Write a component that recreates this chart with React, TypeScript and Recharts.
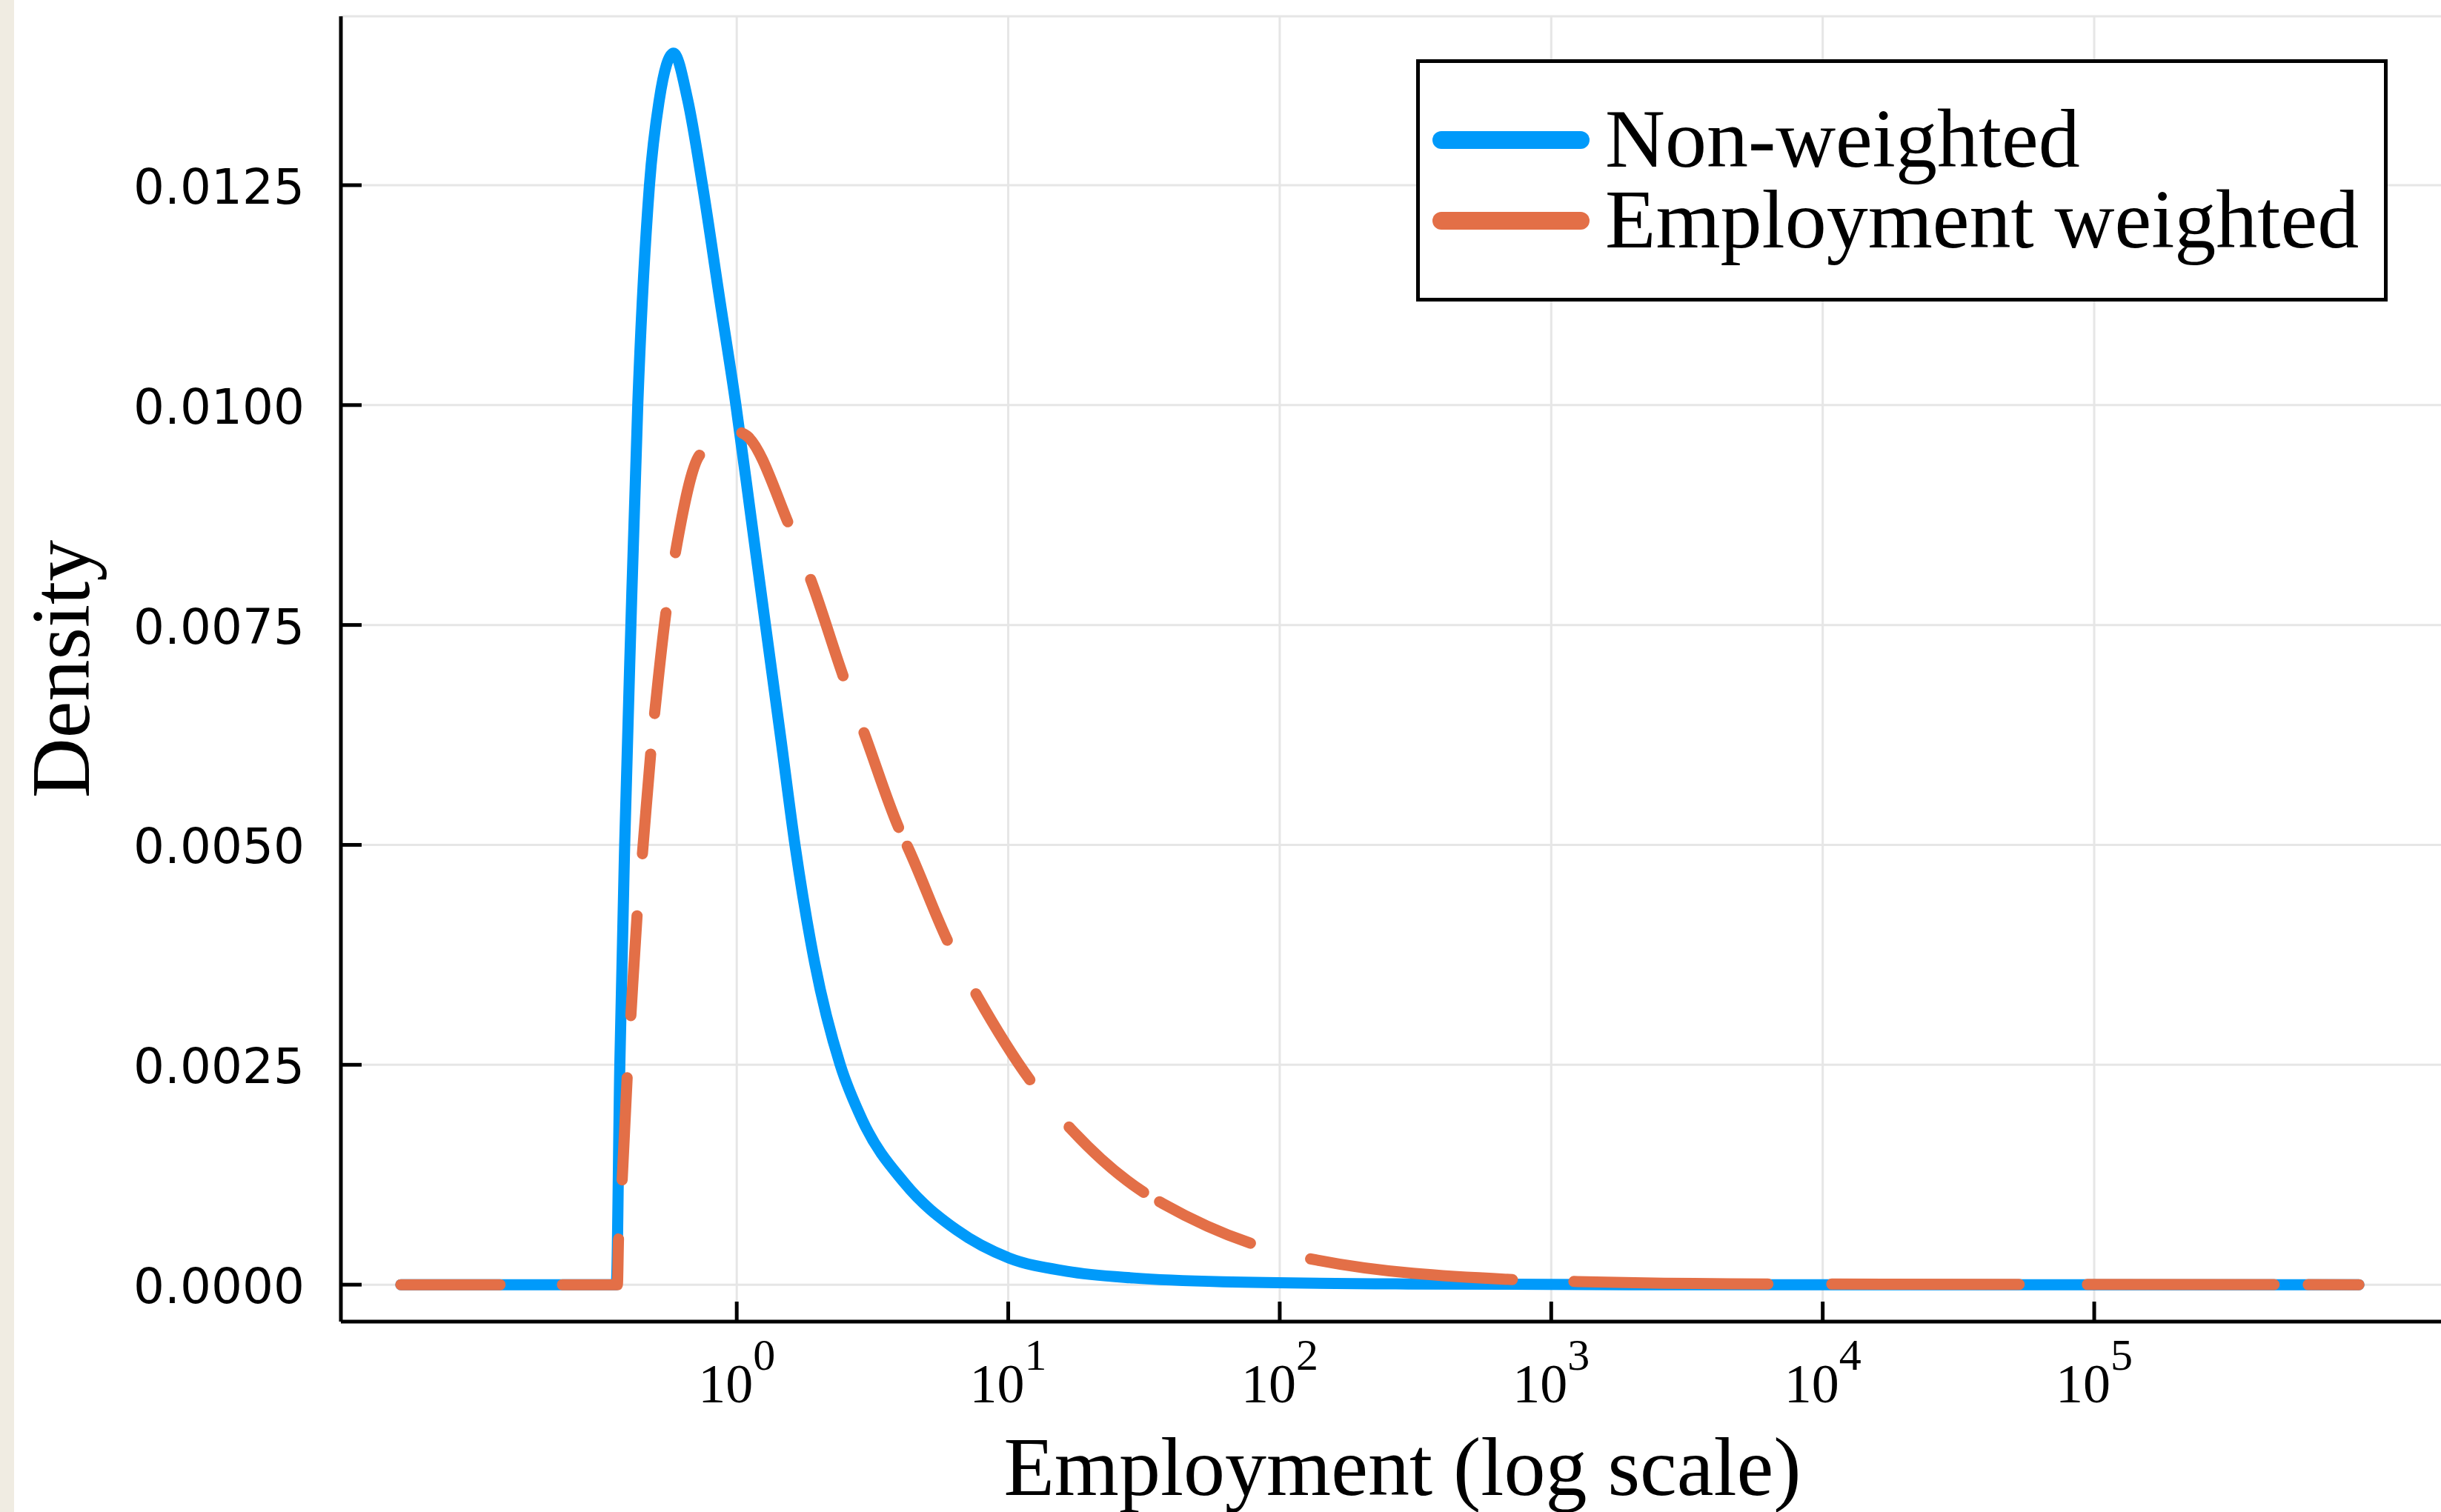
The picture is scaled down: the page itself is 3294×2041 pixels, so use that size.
import React from 'react';
import { LineChart, Line, XAxis, YAxis, CartesianGrid, Legend } from 'recharts';

const BLUE = '#009AFA';
const ORANGE = '#E36F47';

const SERIES_NAMES = ['Non-weighted', 'Employment weighted'];

// employment (x) and density (y)
const nonWeightedX = [0.0579, 0.36, 0.371, 0.3866, 0.4075, 0.432, 0.477, 0.5185, 0.5853, 0.6597, 0.748, 0.8626, 0.9925, 1.1304, 1.2762, 1.4574, 1.6381, 1.9378, 2.4036, 2.9021, 4.153, 6.449, 10.08, 16.459, 28.96, 61.6, 296.5, 1954, 944000];
const nonWeightedY = [0, 0, 0.0025, 0.005, 0.0075, 0.01, 0.0125, 0.01347, 0.014, 0.013469, 0.0125, 0.011236, 0.010006, 0.008709, 0.007499, 0.006182, 0.005003, 0.003656, 0.002502, 0.00187, 0.001154, 0.000623, 0.000303, 0.000152, 0.0000758, 0.0000337, 0.0000084, 0, 0];

const weightedX = [0.0579, 0.3634, 0.3669, 0.3786, 0.3949, 0.4075, 0.4293, 0.4494, 0.4818, 0.5129, 0.5486, 0.5943, 0.7295, 0.9906, 1.089, 1.557, 1.886, 2.485, 2.964, 3.982, 4.285, 6.04, 7.69, 12.21, 17.02, 32.3, 37.0, 80.2, 133.4, 743, 1250, 6460, 944000];
const weightedY = [0, 0, 0.000522, 0.0012, 0.00236, 0.00306, 0.00419, 0.0049, 0.00603, 0.00686, 0.00764, 0.00832, 0.00943, 0.0097, 0.00965, 0.00864, 0.00799, 0.00689, 0.00625, 0.00517, 0.00496, 0.00388, 0.00328, 0.0023, 0.00177, 0.00103, 0.000924, 0.000459, 0.000286, 0.000056, 0.000035, 0.000008, 0];

const xTicks = [1, 10, 100, 1000, 10000, 100000];
const yTicks = [0, 0.0025, 0.005, 0.0075, 0.01, 0.0125];

const X_DOMAIN = [0.03483, 2301000];
const Y_DOMAIN = [-0.00042, 0.01442];

// dash pattern of the weighted line (short dashes first, longer in the tail)
const WEIGHTED_DASH =
  '134 84 136 80 138 84 135 84 135 55 137 82 136 69 137 84 137 82 136 28 138 82 137 83 134 25 135 84 274 83 262 86 253 92 252 46 400 90';

const nonWeighted = nonWeightedX.map((x, i) => ({ x, y: nonWeightedY[i] }));
const weighted = weightedX.map((x, i) => ({ x, y: weightedY[i] }));

const SERIF = "'Liberation Serif', 'Times New Roman', serif";
const SANS = "'DejaVu Sans', sans-serif";

const XTick = ({ x, y, payload }: any) => {
  const exp = Math.round(Math.log10(payload.value));
  return (
    <g>
      <line x1={x} x2={x} y1={y - 109} y2={y - 136} stroke="#000" strokeWidth={5} />
      <text x={x} y={y} textAnchor="middle" fontFamily={SERIF} fontSize={74} fill="#000">
        <tspan>10</tspan>
        <tspan dy={-44} fontSize={60}>{exp}</tspan>
      </text>
    </g>
  );
};

const YTick = ({ x, y, payload }: any) => (
  <g>
    <line x1={x + 49} x2={x + 77} y1={y} y2={y} stroke="#000" strokeWidth={5} />
    <text x={x} y={y + 25} textAnchor="end" fontFamily={SANS} fontSize={66} fill="#000">
      {payload.value.toFixed(4)}
    </text>
  </g>
);

const XLabel = ({ viewBox }: any) => (
  <text
    x={viewBox.x + viewBox.width / 2}
    y={viewBox.y + 234}
    textAnchor="middle"
    fontFamily={SERIF}
    fontSize={112}
    fill="#000"
  >
    Employment (log scale)
  </text>
);

const YLabel = ({ viewBox }: any) => {
  const cx = 120;
  const cy = viewBox.y + viewBox.height / 2;
  return (
    <text
      x={cx}
      y={cy}
      transform={`rotate(-90, ${cx}, ${cy})`}
      textAnchor="middle"
      fontFamily={SERIF}
      fontSize={112}
      fill="#000"
    >
      Density
    </text>
  );
};

const renderLegend = ({ payload }: any) => {
  const items = [...(payload || [])].sort(
    (a: any, b: any) => SERIES_NAMES.indexOf(a.value) - SERIES_NAMES.indexOf(b.value)
  );
  return (
    <svg width={1311} height={327} style={{ display: 'block' }}>
      <rect x={2.5} y={2.5} width={1306} height={322} fill="#fff" stroke="#000" strokeWidth={5} />
      {items.map((entry: any, i: number) => (
        <g key={entry.value}>
          <line
            x1={34}
            x2={222}
            y1={109 + i * 109}
            y2={109 + i * 109}
            stroke={entry.color}
            strokeWidth={24}
            strokeLinecap="round"
          />
          <text x={255} y={145 + i * 109} fontFamily={SERIF} fontSize={112} fill="#000">
            {entry.value}
          </text>
        </g>
      ))}
    </svg>
  );
};

export default function App() {
  return (
    <div
      style={{
        position: 'absolute',
        left: 0,
        top: 0,
        width: 3294,
        height: 2041,
        overflow: 'hidden',
        background: '#fff',
      }}
    >
      <LineChart width={3325} height={2041} margin={{ top: 22, right: 0, bottom: 0, left: 0 }}>
        <CartesianGrid stroke="#e6e6e6" strokeWidth={3} />
        <XAxis
          dataKey="x"
          type="number"
          scale="log"
          domain={X_DOMAIN}
          allowDataOverflow
          ticks={xTicks}
          height={257}
          tickSize={0}
          tickMargin={109}
          tickLine={false}
          tick={<XTick />}
          axisLine={{ stroke: '#000', strokeWidth: 5 }}
          label={{ content: XLabel }}
        />
        <YAxis
          type="number"
          domain={Y_DOMAIN}
          allowDataOverflow
          ticks={yTicks}
          width={460}
          tickSize={0}
          tickMargin={49}
          tickLine={false}
          tick={<YTick />}
          axisLine={{ stroke: '#000', strokeWidth: 5 }}
          label={{ content: YLabel }}
        />
        <Legend
          layout="horizontal"
          align="center"
          verticalAlign="middle"
          content={renderLegend}
          wrapperStyle={{ position: 'absolute', left: 1911, top: 80, width: 1311, height: 327 }}
        />
        <Line
          data={nonWeighted}
          dataKey="y"
          name="Non-weighted"
          type="monotone"
          stroke={BLUE}
          strokeWidth={15}
          strokeLinecap="round"
          strokeLinejoin="round"
          dot={false}
          activeDot={false}
          isAnimationActive={false}
        />
        <Line
          data={weighted}
          dataKey="y"
          name="Employment weighted"
          type="monotone"
          stroke={ORANGE}
          strokeWidth={15}
          strokeDasharray={WEIGHTED_DASH}
          strokeLinecap="round"
          strokeLinejoin="round"
          dot={false}
          activeDot={false}
          isAnimationActive={false}
        />
      </LineChart>
      <div
        style={{
          position: 'absolute',
          left: 0,
          top: 0,
          width: 19,
          height: 2041,
          background: '#F0ECE2',
          zIndex: 10,
        }}
      />
    </div>
  );
}
